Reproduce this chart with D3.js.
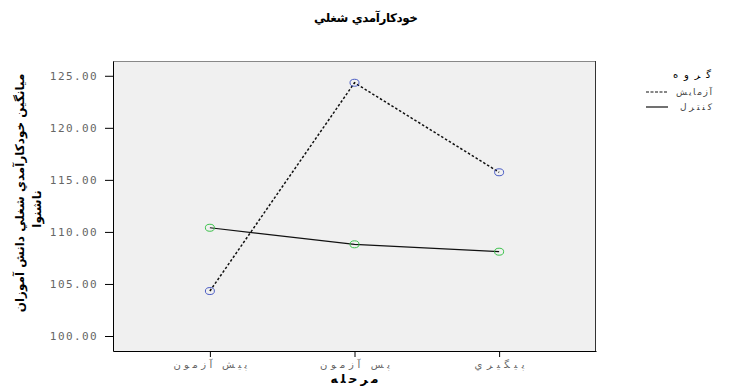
<!DOCTYPE html>
<html>
<head>
<meta charset="utf-8">
<script src="https://cdn.jsdelivr.net/npm/d3@7"></script>
<style>
  body { margin: 0; background: #fff; }
  text { font-family: "DejaVu Sans", sans-serif; }
</style>
</head>
<body>
<div id="chart"></div>
<script>
// Data
const stages = ["پيش آزمون", "پس آزمون", "پيگيري"];
const experimental = [104.32, 124.33, 115.73];
const control = [110.40, 108.81, 108.10];
const yTicks = [100, 105, 110, 115, 120, 125];
const groupNames = ["آزمايش", "کنترل"];

const width = 730, height = 387;
const plot = { left: 113, top: 61, right: 596, bottom: 351 };

const svg = d3.select("#chart").append("svg")
    .attr("width", width)
    .attr("height", height);

// Scales
const x = d3.scalePoint()
    .domain(stages)
    .range([plot.left, plot.right])
    .padding(0.67);

const y = d3.scaleLinear()
    .domain([98.56, 126.42])
    .range([plot.bottom, plot.top]);

// Plot background
svg.append("rect")
    .attr("x", plot.left)
    .attr("y", plot.top)
    .attr("width", plot.right - plot.left)
    .attr("height", plot.bottom - plot.top)
    .attr("fill", "#f0f0f0");

svg.append("line")
    .attr("x1", plot.left).attr("x2", plot.right)
    .attr("y1", plot.top + 0.5).attr("y2", plot.top + 0.5)
    .attr("stroke", "#888");
svg.append("line")
    .attr("x1", plot.right - 0.5).attr("x2", plot.right - 0.5)
    .attr("y1", plot.top).attr("y2", plot.bottom)
    .attr("stroke", "#333");

// Axes
const yAxis = svg.append("g")
    .attr("transform", `translate(${plot.left},0)`)
    .call(d3.axisLeft(y).tickValues(yTicks).tickFormat(d3.format(".2f")).tickSize(8).tickSizeOuter(0));
yAxis.select(".domain").attr("stroke", "#000");
yAxis.selectAll(".tick line").attr("stroke", "#000");
yAxis.selectAll(".tick text")
    .attr("x", -15)
    .style("font-family", "'DejaVu Sans Mono', monospace")
    .style("font-size", "11px")
    .style("letter-spacing", "1.4px")
    .attr("fill", "#666");

const xLabelWidth = { "پيش آزمون": 74, "پس آزمون": 70, "پيگيري": 50 };
const xAxis = svg.append("g")
    .attr("transform", `translate(0,${plot.bottom})`)
    .call(d3.axisBottom(x).tickSize(6).tickSizeOuter(0));
xAxis.select(".domain").attr("stroke", "#000");
xAxis.selectAll(".tick line").attr("stroke", "#000");
xAxis.selectAll(".tick text")
    .attr("y", 10)
    .attr("textLength", d => xLabelWidth[d])
    .attr("lengthAdjust", "spacing")
    .style("font-size", "10px")
    .attr("fill", "#666");

// Lines
const line = d3.line()
    .x((d, i) => x(stages[i]))
    .y(d => y(d));

svg.append("path")
    .datum(control)
    .attr("d", line)
    .attr("fill", "none")
    .attr("stroke", "#111")
    .attr("stroke-width", 1.2);

svg.append("path")
    .datum(experimental)
    .attr("d", line)
    .attr("fill", "none")
    .attr("stroke", "#111")
    .attr("stroke-width", 1.5)
    .attr("stroke-dasharray", "2.5,2");

// Markers
svg.selectAll(".exp-dot")
    .data(experimental)
    .enter().append("ellipse")
    .attr("class", "exp-dot")
    .attr("cx", (d, i) => x(stages[i]))
    .attr("cy", d => y(d))
    .attr("rx", 4.5).attr("ry", 3.5)
    .attr("fill", "none")
    .attr("stroke", "#4a5cc4");

svg.selectAll(".ctl-dot")
    .data(control)
    .enter().append("ellipse")
    .attr("class", "ctl-dot")
    .attr("cx", (d, i) => x(stages[i]))
    .attr("cy", d => y(d))
    .attr("rx", 4.5).attr("ry", 3.5)
    .attr("fill", "none")
    .attr("stroke", "#3cc24c");

// Title
svg.append("text")
    .attr("x", 366)
    .attr("y", 22)
    .attr("text-anchor", "middle")
    .attr("textLength", 104)
    .attr("lengthAdjust", "spacing")
    .style("font-size", "12px")
    .style("font-weight", "bold")
    .text("خودکارآمدي شغلي");

// Axis titles
svg.append("text")
    .attr("x", (plot.left + plot.right) / 2)
    .attr("y", 383)
    .attr("text-anchor", "middle")
    .attr("textLength", 48)
    .attr("lengthAdjust", "spacing")
    .style("font-size", "12px")
    .style("font-weight", "bold")
    .text("مرحله");

const yTitle = svg.append("text")
    .attr("transform", "translate(0,193) rotate(-90)")
    .attr("text-anchor", "middle")
    .style("font-size", "12px")
    .style("font-weight", "bold");
yTitle.append("tspan").attr("x", 0).attr("y", 24).text("میانگین خودکارآمدي شغلي دانش آموزان");
yTitle.append("tspan").attr("x", -16).attr("y", 41).text("ناشنوا");

// Legend
const legend = svg.append("g");
legend.append("text")
    .attr("x", 711).attr("y", 78)
    .attr("text-anchor", "end")
    .attr("textLength", 38)
    .attr("lengthAdjust", "spacing")
    .style("font-size", "10px")
    .text("گروه");

legend.selectAll(".leg-item")
    .data(groupNames)
    .enter().append("g")
    .attr("class", "leg-item")
    .each(function (d, i) {
        const g = d3.select(this);
        const ly = 92 + i * 15;
        g.append("line")
            .attr("x1", 646).attr("x2", 668)
            .attr("y1", ly).attr("y2", ly)
            .attr("stroke", "#111")
            .attr("stroke-width", 1.2)
            .attr("stroke-dasharray", i === 0 ? "3,1.5" : null);
        g.append("text")
            .attr("x", 712).attr("y", ly + 3)
            .attr("text-anchor", "end")
            .attr("textLength", i === 0 ? 36 : 32)
            .attr("lengthAdjust", "spacing")
            .style("font-size", "9px")
            .attr("fill", "#444")
            .text(d);
    });
</script>
</body>
</html>
